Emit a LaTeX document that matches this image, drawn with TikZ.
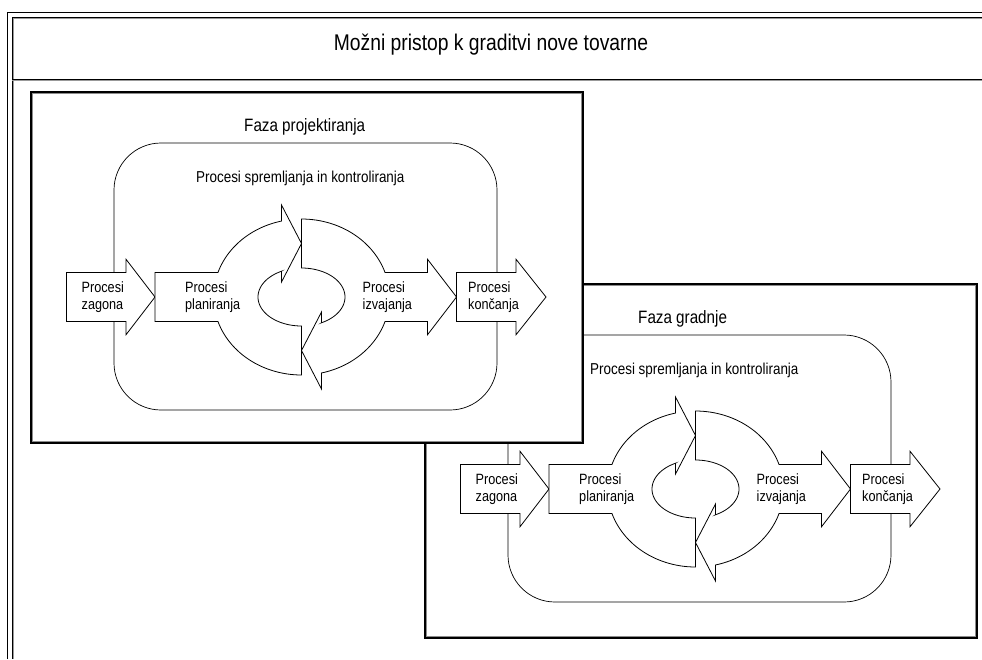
\documentclass[tikz,border=0pt]{standalone}
\usepackage{fontspec}
\setmainfont[FakeStretch=0.85]{Liberation Sans}
\tikzset{
  arrowshape/.style={draw=black, fill=white, line width=0.8pt, line join=miter},
  framebox/.style={draw=black, fill=white, line width=1.1pt},
  frameshade/.style={draw=black!45, line width=0.8pt},
  container/.style={draw=black, line width=0.7pt, rounded corners=47pt},
  lbl/.style={font=\fontsize{14.9}{17.5}\selectfont, align=left, anchor=west, inner sep=0pt},
  monlbl/.style={font=\fontsize{15.8}{17}\selectfont, anchor=west, inner sep=0pt},
  fazalbl/.style={font=\fontsize{17.9}{20}\selectfont, anchor=west, inner sep=0pt},
  titlelbl/.style={font=\fontsize{22.7}{25}\selectfont, inner sep=0pt}
}
\newcommand\drawpanelcontent[4]{%
\begin{scope}[shift={(#1,#2)}]
  \draw[container] (114,143) rectangle (497,410);
  \node[fazalbl] (faza#3) at (244,127) {#4};
  \node[monlbl] (mon#3) at (196,178) {Procesi spremljanja in kontroliranja};
  % Procesi zagona
  \draw[arrowshape] (66.5,272.5) -- (126,272.5) -- (126,259.25) -- (155,297)
     -- (126,334.75) -- (126,321.5) -- (66.5,321.5) -- cycle;
  % left ring (planiranja)
  \draw[arrowshape] (281.5,282) -- (281.5,271.25)
     -- plot[domain=242.63:90, samples=40, variable=\t] ({301.5+43.5*cos(\t)},{297+29*sin(\t)})
     -- (301.5,375)
     -- plot[domain=90:161.69, samples=30, variable=\t] ({301.5+88*cos(\t)},{297+78*sin(\t)})
     -- (155,321.5) -- (155,272.5)
     -- plot[domain=198.31:256.86, samples=30, variable=\t] ({301.5+88*cos(\t)},{297+78*sin(\t)})
     -- (281.5,205) -- (301.5,243.5) -- cycle;
  % right ring (izvajanja)
  \draw[arrowshape] (321.5,312) -- (321.5,322.75)
     -- plot[domain=62.63:-90, samples=40, variable=\t] ({301.5+43.5*cos(\t)},{297+29*sin(\t)})
     -- (301.5,219)
     -- plot[domain=-90:-18.31, samples=30, variable=\t] ({301.5+88*cos(\t)},{297+78*sin(\t)})
     -- (427.5,272.5) -- (427.5,259.25) -- (456.5,297) -- (427.5,334.75) -- (427.5,321.5)
     -- plot[domain=18.31:76.86, samples=30, variable=\t] ({301.5+88*cos(\t)},{297+78*sin(\t)})
     -- (321.5,389) -- (301.5,350.5) -- cycle;
  % Procesi koncanja
  \draw[arrowshape] (456.5,272.5) -- (516,272.5) -- (516,259.25) -- (546,297)
     -- (516,334.75) -- (516,321.5) -- (456.5,321.5) -- cycle;
  \node[lbl] (zag#3) at (81.5,297) {Procesi\\zagona};
  \node[lbl] (plan#3) at (185,297) {Procesi\\planiranja};
  \node[lbl] (izv#3) at (362.5,297) {Procesi\\izvajanja};
  \node[lbl] (konc#3) at (468,297) {Procesi\\končanja};
\end{scope}}
\begin{document}
\begin{tikzpicture}[x=1pt,y=-1pt]
  \useasboundingbox (0,0) rectangle (982,659);
  \fill[white] (0,0) rectangle (982,659);
  % outer frame (cropped at right and bottom)
  \draw[line width=0.8pt] (7,659) -- (7,12) -- (982,12);
  \draw[line width=0.8pt] (12,659) -- (12,17) -- (982,17);
  \draw[black!40, line width=0.7pt] (13.2,659) -- (13.2,18.2) -- (982,18.2);
  \draw[line width=1pt] (12,79) -- (982,79);
  \draw[black!40, line width=0.8pt] (12,80.6) -- (982,80.6);
  \node[titlelbl] (title) at (491,45) {Možni pristop k graditvi nove tovarne};
  % panel 2 (behind)
  \draw[framebox] (425,284) rectangle (977,638);
  \draw[frameshade] (426.4,285.4) rectangle (975.6,636.6);
  \drawpanelcontent{394}{192}{B}{Faza gradnje}
  % panel 1 (front)
  \draw[framebox] (31,92) rectangle (583,443);
  \draw[frameshade] (32.4,93.4) rectangle (581.6,441.6);
  \drawpanelcontent{0}{0}{A}{Faza projektiranja}
\end{tikzpicture}
\end{document}
